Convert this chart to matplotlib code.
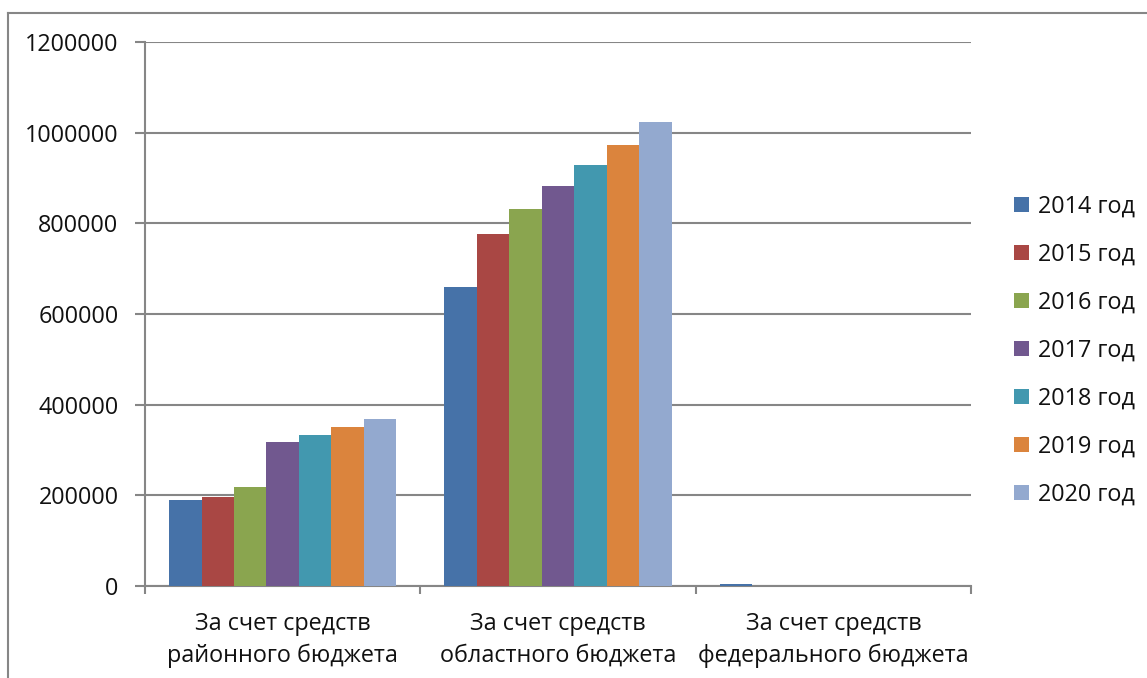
import matplotlib
matplotlib.use("Agg")
import matplotlib.pyplot as plt
import numpy as np
from matplotlib.lines import Line2D

categories = ["За счет средств\nрайонного бюджета",
              "За счет средств\nобластного бюджета",
              "За счет средств\nфедерального бюджета"]
series_names = ["2014 год", "2015 год", "2016 год", "2017 год",
                "2018 год", "2019 год", "2020 год"]
v2014 = [190000, 660000, 5000]
v2015 = [197000, 777000, 0]
v2016 = [218000, 831000, 0]
v2017 = [318000, 883000, 0]
v2018 = [333000, 928000, 0]
v2019 = [351000, 973000, 0]
v2020 = [368000, 1023000, 0]
series_values = [v2014, v2015, v2016, v2017, v2018, v2019, v2020]
colors = ["#4672A8", "#A94744", "#8AA54F", "#71588F", "#4298AF", "#DB843D", "#93A9CF"]
yticks = [0, 200000, 400000, 600000, 800000, 1000000, 1200000]

plt.rcParams['font.family'] = ['Open Sans', 'DejaVu Sans']
FS = 16.8

W, H = 1147, 678
fig = plt.figure(figsize=(W / 100, H / 100), dpi=100)
ax = fig.add_axes([145 / W, 1 - 586 / H, (971 - 145) / W, (586 - 42) / H])

n = len(series_values)
group_w = 0.825
bw = group_w / n
x = np.arange(len(categories))
handles = []
for i, (vals, c, name) in enumerate(zip(series_values, colors, series_names)):
    offs = -group_w / 2 + bw * (i + 0.5)
    b = ax.bar(x + offs, vals, width=bw, color=c, label=name, zorder=3, linewidth=0)
    handles.append(b)

ax.set_xlim(-0.5, len(categories) - 0.5)
ax.set_ylim(0, 1200000)
ax.set_yticks(yticks)
ax.set_yticklabels([str(v) for v in yticks], fontsize=FS, color="#111111")
ax.yaxis.grid(True, color="#868686", linewidth=1.5, zorder=0)
ax.set_axisbelow(True)

ax.set_xticks(x)
ax.set_xticklabels(categories, fontsize=FS, linespacing=1.4, color="#111111")
ax.tick_params(axis='x', length=0, pad=19)
ax.set_xticks(np.arange(len(categories) + 1) - 0.5, minor=True)
ax.tick_params(axis='x', which='minor', length=6, width=1.5, color="#868686", direction='out')
ax.tick_params(axis='y', length=7, width=1.5, color="#868686", pad=12, direction='out')

for s in ['top', 'right']:
    ax.spines[s].set_visible(False)
for s in ['left', 'bottom']:
    ax.spines[s].set_color("#868686")
    ax.spines[s].set_linewidth(1.5)

leg = fig.legend(handles=handles, labels=series_names, loc='upper left',
                 bbox_to_anchor=(1002 / W, 1 - 183 / H), frameon=False,
                 fontsize=FS, handlelength=0.65, handleheight=0.65,
                 handletextpad=0.4, labelspacing=1.03, borderpad=0,
                 labelcolor="#111111")

# outer chart frame
fig.add_artist(Line2D([8 / W, 8 / W], [1 - 13 / H, 0], transform=fig.transFigure,
                      color="#868686", linewidth=1.5))
fig.add_artist(Line2D([8 / W, 1], [1 - 13 / H, 1 - 13 / H], transform=fig.transFigure,
                      color="#868686", linewidth=1.5))

fig.savefig("out.png", dpi=100)
